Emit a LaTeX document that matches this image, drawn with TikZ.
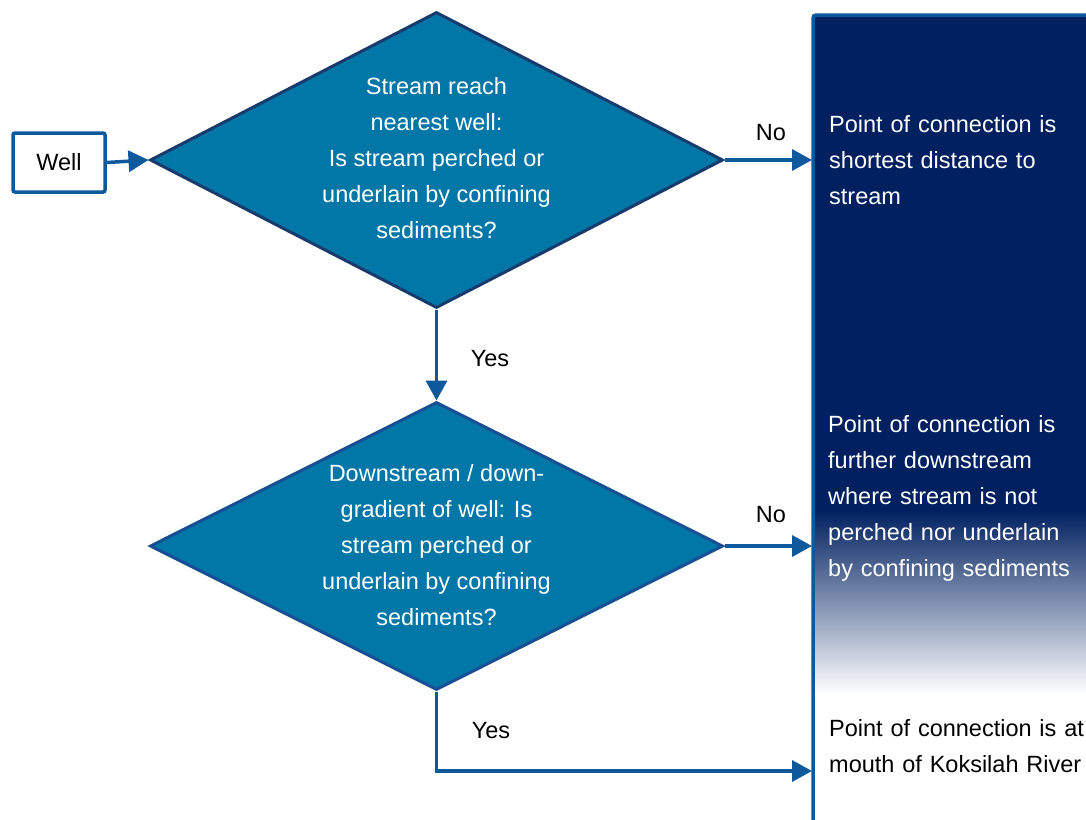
\documentclass[tikz,border=0pt]{standalone}
\usepackage{fontspec}
\setmainfont{Liberation Sans}
\usetikzlibrary{shapes.geometric,arrows.meta}
\definecolor{navy}{RGB}{0,32,96}
\definecolor{diafill}{RGB}{0,119,166}
\definecolor{diaedge}{RGB}{24,58,108}
\definecolor{diaedgeb}{RGB}{24,78,148}
\definecolor{linkblue}{RGB}{14,88,156}
\begin{document}
\begin{tikzpicture}[x=1pt,y=-1pt,
 dia/.style={diamond, draw=diaedge, fill=diafill, line width=3pt, minimum width=573pt, minimum height=296pt, inner sep=0pt},
 diatext/.style={text=white, font=\fontsize{23.5}{36}\selectfont, align=center, inner sep=0pt},
 flow/.style={draw=linkblue, line width=3.5pt, -{Triangle[length=20pt,width=21pt]}},
 lbl/.style={font=\fontsize{23.5}{28}\selectfont, inner sep=0pt},
 paneltext/.style={font=\fontsize{23.5}{36}\selectfont, align=left, text width=260pt, anchor=base west, inner sep=0pt},
 wellbox/.style={draw=linkblue, line width=3.5pt, fill=white, rounded corners=2pt, minimum width=92pt, minimum height=59pt, inner sep=0pt, font=\fontsize{23.5}{28}\selectfont}]
\useasboundingbox (0,0) rectangle (1086,819);
% right panel
\fill[navy] (812,15) rectangle (1090,511);
\shade[top color=navy, middle color=navy!55, bottom color=white] (812,510) rectangle (1090,694);
\draw[linkblue, line width=3.5pt, rounded corners=3pt] (813,830) -- (813,15) -- (1095,15);
\coordinate (p1) at (812,160);
\coordinate (p2) at (812,546);
\coordinate (p3) at (812,771);
% nodes
\node[wellbox] (well) at (59,162.5) {Well};
\node[dia] (d1) at (436.5,160) {};
\node[diatext] (t1) at (436.5,158.5) {Stream reach\\nearest well:\\Is stream perched or\\underlain by confining\\sediments?};
\node[dia, minimum height=288pt, draw=diaedgeb] (d2) at (436.5,546) {};
\node[diatext] (t2) at (436.5,545.5) {Downstream / down-\\gradient of well: Is\\stream perched or\\underlain by confining\\sediments?};
% connectors
\draw[flow] (well.east) -- (d1.west);
\draw[flow] (d1.east) -- (p1);
\draw[flow] (d1.south) -- (d2.north);
\draw[flow] (d2.east) -- (p2);
\draw[flow] (d2.south) |- (p3);
% labels
\node[lbl] (no1) at (771,133) {No};
\node[lbl] (no2) at (771,515) {No};
\node[lbl] (yes1) at (490,359) {Yes};
\node[lbl] (yes2) at (491,731) {Yes};
% panel texts
\node[paneltext, text=white] (r1) at (829,132) {Point of connection is\\shortest distance to\\stream};
\node[paneltext, text=white] (r2) at (828,432) {Point of connection is\\further downstream\\where stream is not\\perched nor underlain\\by confining sediments};
\node[paneltext, text=black] (r3) at (829,736) {Point of connection is at\\mouth of Koksilah River};
\end{tikzpicture}
\end{document}
